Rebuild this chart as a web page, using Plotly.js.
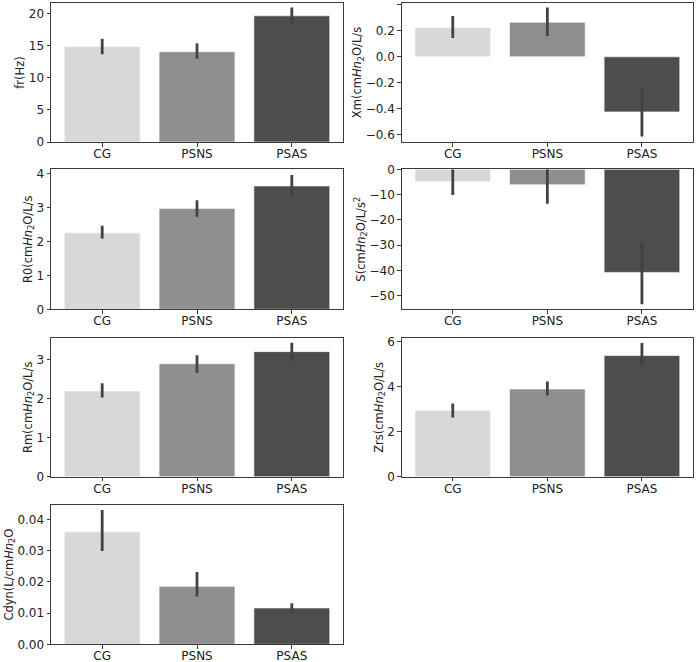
<!DOCTYPE html>
<html><head><meta charset="utf-8">
<script src="https://cdn.plot.ly/plotly-3.0.1.min.js"></script>
<style>html,body{margin:0;padding:0;background:#fff}#chart{width:696px;height:662px}</style>
</head><body><div id="chart"></div>
<script>
const groups = ["CG", "PSNS", "PSAS"];
const barColors = ["#d8d8d8", "#8f8f8f", "#4d4d4d"];

const frMean = [14.9, 14.1, 19.7];
const frLow  = [13.7, 13.0, 18.4];
const frHigh = [16.1, 15.4, 21.0];

const xmMean = [0.226, 0.267, -0.425];
const xmLow  = [0.146, 0.16, -0.615];
const xmHigh = [0.315, 0.38, -0.243];

const r0Mean = [2.25, 2.97, 3.63];
const r0Low  = [2.08, 2.72, 3.31];
const r0High = [2.46, 3.21, 3.95];

const sMean = [-4.9, -6.1, -40.8];
const sLow  = [-10.2, -13.6, -53.4];
const sHigh = [0.0, 0.0, -29.1];

const rmMean = [2.20, 2.90, 3.21];
const rmLow  = [2.03, 2.67, 2.97];
const rmHigh = [2.40, 3.12, 3.44];

const zrsMean = [2.94, 3.89, 5.37];
const zrsLow  = [2.63, 3.60, 4.93];
const zrsHigh = [3.25, 4.22, 5.93];

const cdynMean = [0.0361, 0.0186, 0.01165];
const cdynLow  = [0.0299, 0.0153, 0.0101];
const cdynHigh = [0.0431, 0.0232, 0.0132];

const panels = [
  {mean: frMean, low: frLow, high: frHigh, title: "fr(Hz)", range: [0, 21.7], dtick: 5, fmt: "d"},
  {mean: xmMean, low: xmLow, high: xmHigh, title: "Xm(cm<i>Hn</i><sub>2</sub>O/L/s", range: [-0.657, 0.415], dtick: 0.2, fmt: ".1f"},
  {mean: r0Mean, low: r0Low, high: r0High, title: "R0(cm<i>Hn</i><sub>2</sub>O/L/s", range: [0, 4.12], dtick: 1, fmt: "d"},
  {mean: sMean, low: sLow, high: sHigh, title: "S(cm<i>Hn</i><sub>2</sub>O/L/s<sup>2</sup>", range: [-55.4, 0], dtick: 10, fmt: "d"},
  {mean: rmMean, low: rmLow, high: rmHigh, title: "Rm(cm<i>Hn</i><sub>2</sub>O/L/s", range: [0, 3.56], dtick: 1, fmt: "d"},
  {mean: zrsMean, low: zrsLow, high: zrsHigh, title: "Zrs(cm<i>Hn</i><sub>2</sub>O/L/s", range: [0, 6.15], dtick: 2, fmt: "d"},
  {mean: cdynMean, low: cdynLow, high: cdynHigh, title: "Cdyn(L/cm<i>Hn</i><sub>2</sub>O", range: [0, 0.0447], dtick: 0.01, fmt: ".2f"}
];

const W = 696, H = 662;
const colPx = [[51, 343], [401.7, 693]];
const rowPx = [[3, 142], [169.3, 309.3], [338, 476.7], [505, 644.3]];

const traces = [];
const layout = {
  width: W, height: H,
  margin: {l: 0, r: 0, t: 0, b: 0},
  paper_bgcolor: "#fff", plot_bgcolor: "#fff",
  showlegend: false,
  bargap: 0.2,
  font: {family: "DejaVu Sans", size: 12, color: "#222"}
};

panels.forEach((p, i) => {
  const n = i + 1;
  const xa = "x" + (n === 1 ? "" : n), ya = "y" + (n === 1 ? "" : n);
  const col = i % 2, row = Math.floor(i / 2);
  traces.push({
    type: "bar", x: groups, y: p.mean, xaxis: xa, yaxis: ya,
    marker: {color: barColors, line: {color: "rgba(255,255,255,0.6)", width: 1}},
    error_y: {
      type: "data", symmetric: false,
      array: p.high.map((h, k) => h - p.mean[k]),
      arrayminus: p.mean.map((m, k) => m - p.low[k]),
      color: "#424242", thickness: 2.8, width: 0
    },
    hoverinfo: "x+y"
  });
  const common = {
    showline: true, mirror: true, linecolor: "#3a3a3a", linewidth: 1,
    ticks: "outside", ticklen: 3.5, tickcolor: "#3a3a3a", tickwidth: 1,
    showgrid: false, zeroline: false,
    tickfont: {family: "DejaVu Sans", size: 12, color: "#222"}
  };
  layout["xaxis" + (n === 1 ? "" : n)] = Object.assign({}, common, {
    domain: [colPx[col][0] / W, colPx[col][1] / W],
    anchor: ya, type: "category", range: [-0.54, 2.54],
    ticklabelstandoff: -3
  });
  layout["yaxis" + (n === 1 ? "" : n)] = Object.assign({}, common, {
    domain: [1 - rowPx[row][1] / H, 1 - rowPx[row][0] / H],
    anchor: xa, range: p.range, dtick: p.dtick, tick0: 0, tickformat: p.fmt,
    title: {text: p.title, font: {family: "DejaVu Sans", size: 11.5, color: "#222"}, standoff: 1}
  });
});

Plotly.newPlot("chart", traces, layout, {staticPlot: true});
</script>
</body></html>
